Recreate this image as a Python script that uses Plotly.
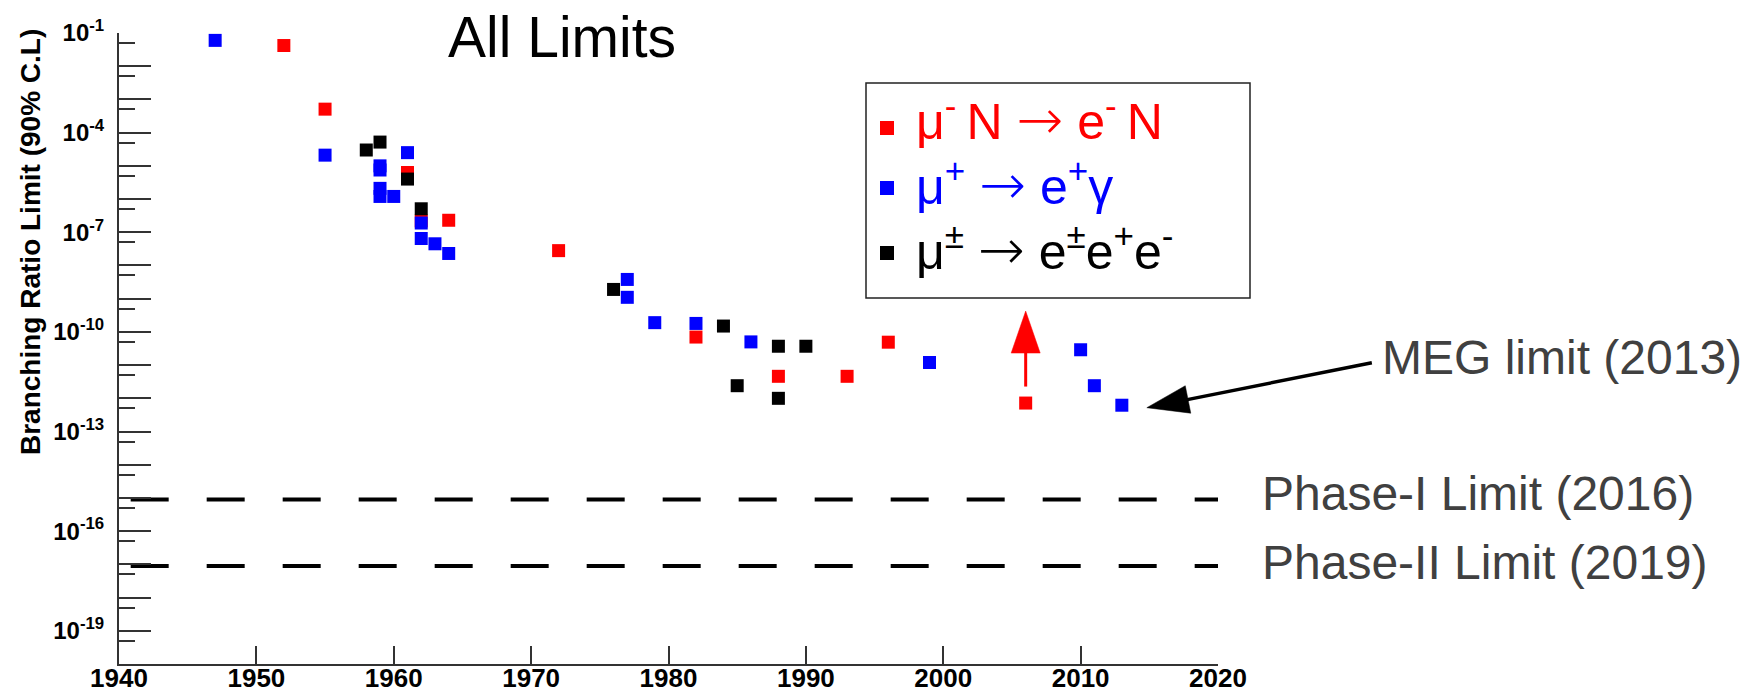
import math
import plotly.graph_objects as go

# ---------------- data ----------------
red_years = [1952, 1955, 1961, 1962, 1964, 1972, 1982, 1988, 1993, 1996, 2006]
red_vals = [4.2e-2, 5.1e-4, 6.3e-6, 2.2e-7, 2.3e-7, 2.8e-8, 7.0e-11, 4.6e-12, 4.6e-12, 4.9e-11, 7.2e-13]

blue_years = [1947, 1955, 1959, 1959, 1959, 1959, 1960, 1961, 1962, 1962, 1963, 1964,
              1977, 1977, 1979, 1982, 1986, 1999, 2010, 2011, 2013]
blue_vals = [6.0e-2, 2.1e-5, 1.0e-5, 7.5e-6, 2.1e-6, 1.2e-6, 1.2e-6, 2.5e-5, 1.9e-7, 6.5e-8, 4.5e-8, 2.3e-8,
             3.8e-9, 1.1e-9, 1.9e-10, 1.8e-10, 5.0e-11, 1.2e-11, 2.9e-11, 2.4e-12, 6.2e-13]

black_years = [1958, 1959, 1961, 1962, 1976, 1984, 1985, 1988, 1988, 1990]
black_vals = [3.0e-5, 5.2e-5, 4.0e-6, 5.1e-7, 1.9e-9, 1.5e-10, 2.4e-12, 3.7e-11, 1.0e-12, 3.7e-11]

series_colors = ["#ff0000", "#0000ff", "#000000"]
series_names = ["μ-N → e-N", "μ+ → e+γ", "μ± → e±e+e-"]

phase_names = ["Phase-I Limit (2016)", "Phase-II Limit (2019)"]
phase_vals = [9.0e-16, 9.0e-18]
phase_years = [1940.85, 2020.2]

x_tick_vals = [1940, 1950, 1960, 1970, 1980, 1990, 2000, 2010, 2020]
y_decades = list(range(-1, -21, -1))
y_label_decades = [-1, -4, -7, -10, -13, -16, -19]

ARW = "<span style='font-family:DejaVu Sans;font-weight:200;font-size:56px'>→</span>"
legend_texts = [
    "μ<sup>-</sup>\u2009N " + ARW + " e<sup>-</sup>\u2009N",
    "μ<sup>+</sup> " + ARW + " e<sup>+</sup>γ",
    "μ<sup>±</sup> " + ARW + " e<sup>±</sup>e<sup>+</sup>e<sup>-</sup>",
]

# ---------------- geometry ----------------
W, H = 1757, 694
ML, MR, MT, MB = 119, 539, 33, 30
PW = W - ML - MR
PH = H - MT - MB
X_RANGE = [1940, 2020]
Y_RANGE = [-20, -1]


def data_px(x, y):
    px = ML + (x - X_RANGE[0]) / (X_RANGE[1] - X_RANGE[0]) * PW
    py = MT + (Y_RANGE[1] - math.log10(y)) / (Y_RANGE[1] - Y_RANGE[0]) * PH
    return px, py


def paper(px, py):
    return (px - ML) / PW, (H - MB - py) / PH


def rect(x0, y0, x1, y1, **kw):
    a, b = paper(x0, y0)
    c, d = paper(x1, y1)
    return dict(type="rect", xref="paper", yref="paper", x0=a, y0=b, x1=c, y1=d, **kw)


def arrow_shapes(tip, tail, color, head_len=42, head_half=14, width=3):
    dx, dy = tail[0] - tip[0], tail[1] - tip[1]
    n = math.hypot(dx, dy)
    ux, uy = dx / n, dy / n
    bx, by = tip[0] + head_len * ux, tip[1] + head_len * uy
    c1 = (bx - uy * head_half, by + ux * head_half)
    c2 = (bx + uy * head_half, by - ux * head_half)
    p_tip, p_c1, p_c2 = paper(*tip), paper(*c1), paper(*c2)
    s0 = paper(bx - 2 * ux, by - 2 * uy)
    s1 = paper(*tail)
    path = "M {} {} L {} {} L {} {} Z".format(p_tip[0], p_tip[1], p_c1[0], p_c1[1], p_c2[0], p_c2[1])
    return [
        dict(type="line", xref="paper", yref="paper", x0=s0[0], y0=s0[1], x1=s1[0], y1=s1[1],
             line=dict(color=color, width=width)),
        dict(type="path", xref="paper", yref="paper", path=path, fillcolor=color,
             line=dict(color=color, width=0.5)),
    ]


fig = go.Figure()

# dashed future-limit lines (on the overlaying axis that also carries the unlabeled decade ticks)
for v in phase_vals:
    fig.add_trace(go.Scatter(x=phase_years, y=[v, v], mode="lines", showlegend=False, yaxis="y2",
                             line=dict(color="black", width=4, dash="38px,38px"), hoverinfo="skip"))

for yrs, vals, col, name in zip([red_years, blue_years, black_years], [red_vals, blue_vals, black_vals],
                                series_colors, series_names):
    fig.add_trace(go.Scatter(x=yrs, y=vals, mode="markers", name=name, showlegend=False,
                             marker=dict(symbol="square", size=13, color=col, line=dict(width=0))))

shapes = []
annotations = []

# legend box (drawn by hand so the row spacing matches)
shapes.append(rect(866, 83, 1250, 298, fillcolor="white", line=dict(color="#222222", width=1.5)))
row_y = [128, 188, 253]
for ry, col in zip(row_y, series_colors):
    shapes.append(rect(880, ry - 7, 894, ry + 7, fillcolor=col, line=dict(width=0)))
legend_block = "<br>".join("<span style='color:%s'>%s</span>" % (c, t)
                           for c, t in zip(series_colors, legend_texts))
lgx, lgy = paper(914, 184)
annotations.append(dict(text=legend_block, x=lgx, y=lgy, xref="paper", yref="paper", showarrow=False,
                        xanchor="left", yanchor="middle", align="left",
                        font=dict(family="Liberation Sans", size=50, color="black")))

# arrows
rpx, rpy = data_px(red_years[-1], red_vals[-1])
shapes += arrow_shapes((rpx, rpy - 92), (rpx, rpy - 16.5), "#ff0000", head_len=42, head_half=14.5, width=3)
mpx, mpy = data_px(blue_years[-1], blue_vals[-1])
meg_tip = (mpx + 25, mpy + 2.5)
shapes += arrow_shapes(meg_tip, (meg_tip[0] + 225, meg_tip[1] - 45), "#000000", head_len=42, head_half=14, width=3.5)

ax_, ay_ = paper(562, 37)
annotations.append(dict(text="All Limits", x=ax_, y=ay_, xref="paper", yref="paper", showarrow=False,
                        xanchor="center", yanchor="middle",
                        font=dict(family="Liberation Sans", size=57, color="black")))
tx, ty = paper(30, 242)
annotations.append(dict(text="Branching Ratio Limit (90% C.L)", x=tx, y=ty, xref="paper", yref="paper",
                        showarrow=False, textangle=-90, xanchor="center", yanchor="middle",
                        font=dict(family="Liberation Sans", size=28, color="black", weight="bold")))
mx, my = paper(1380, 357)
annotations.append(dict(text="MEG limit (2013)", x=mx, y=my, xref="paper", yref="paper", showarrow=False,
                        xanchor="left", yanchor="middle",
                        font=dict(family="Liberation Sans", size=48, color="#404040")))
for name, v, off in zip(phase_names, phase_vals, [-6, -3]):
    _, py = data_px(2000, v)
    px_, py_ = paper(1260, py + off)
    annotations.append(dict(text=name, x=px_, y=py_, xref="paper", yref="paper", showarrow=False,
                            xanchor="left", yanchor="middle",
                            font=dict(family="Liberation Sans", size=48, color="#404040")))

tick_col = "#333333"
fig.update_layout(
    width=W, height=H,
    margin=dict(l=ML, r=MR, t=MT, b=MB, pad=0),
    paper_bgcolor="white", plot_bgcolor="white",
    shapes=shapes, annotations=annotations,
    showlegend=False,
    xaxis=dict(range=X_RANGE, tickvals=x_tick_vals, ticktext=[str(v) for v in x_tick_vals],
               ticks="inside", ticklen=18, tickwidth=1.5, tickcolor=tick_col, automargin=False,
               ticklabelstandoff=-10,
               showline=True, linecolor=tick_col, linewidth=2, showgrid=False, zeroline=False,
               tickfont=dict(family="Liberation Sans", size=26, color="black", weight="bold")),
    yaxis=dict(type="log", range=[Y_RANGE[0], Y_RANGE[1] + 0.0005], automargin=False,
               tickvals=[10.0 ** d for d in y_label_decades],
               ticktext=["10<sup>%d</sup>" % d for d in y_label_decades],
               ticks="inside", ticklen=32, tickwidth=1.5, tickcolor=tick_col, ticklabelstandoff=8,
               minor=dict(tickmode="array", tickvals=[5 * 10.0 ** (d - 1) for d in y_decades],
                          ticks="inside", ticklen=16, tickwidth=1.5, tickcolor=tick_col),
               showline=True, linecolor=tick_col, linewidth=2, showgrid=False, zeroline=False,
               tickfont=dict(family="Liberation Sans", size=24, color="black", weight="bold")),
    yaxis2=dict(type="log", range=[Y_RANGE[0], Y_RANGE[1] + 0.0005], overlaying="y", side="left",
                automargin=False, tickvals=[10.0 ** d for d in y_decades], showticklabels=False,
                ticks="inside", ticklen=32, tickwidth=1.5, tickcolor=tick_col,
                showline=False, showgrid=False, zeroline=False),
)

fig.write_html("out.html", config={"displayModeBar": False},
               post_script="document.body.style.margin='0px';")
